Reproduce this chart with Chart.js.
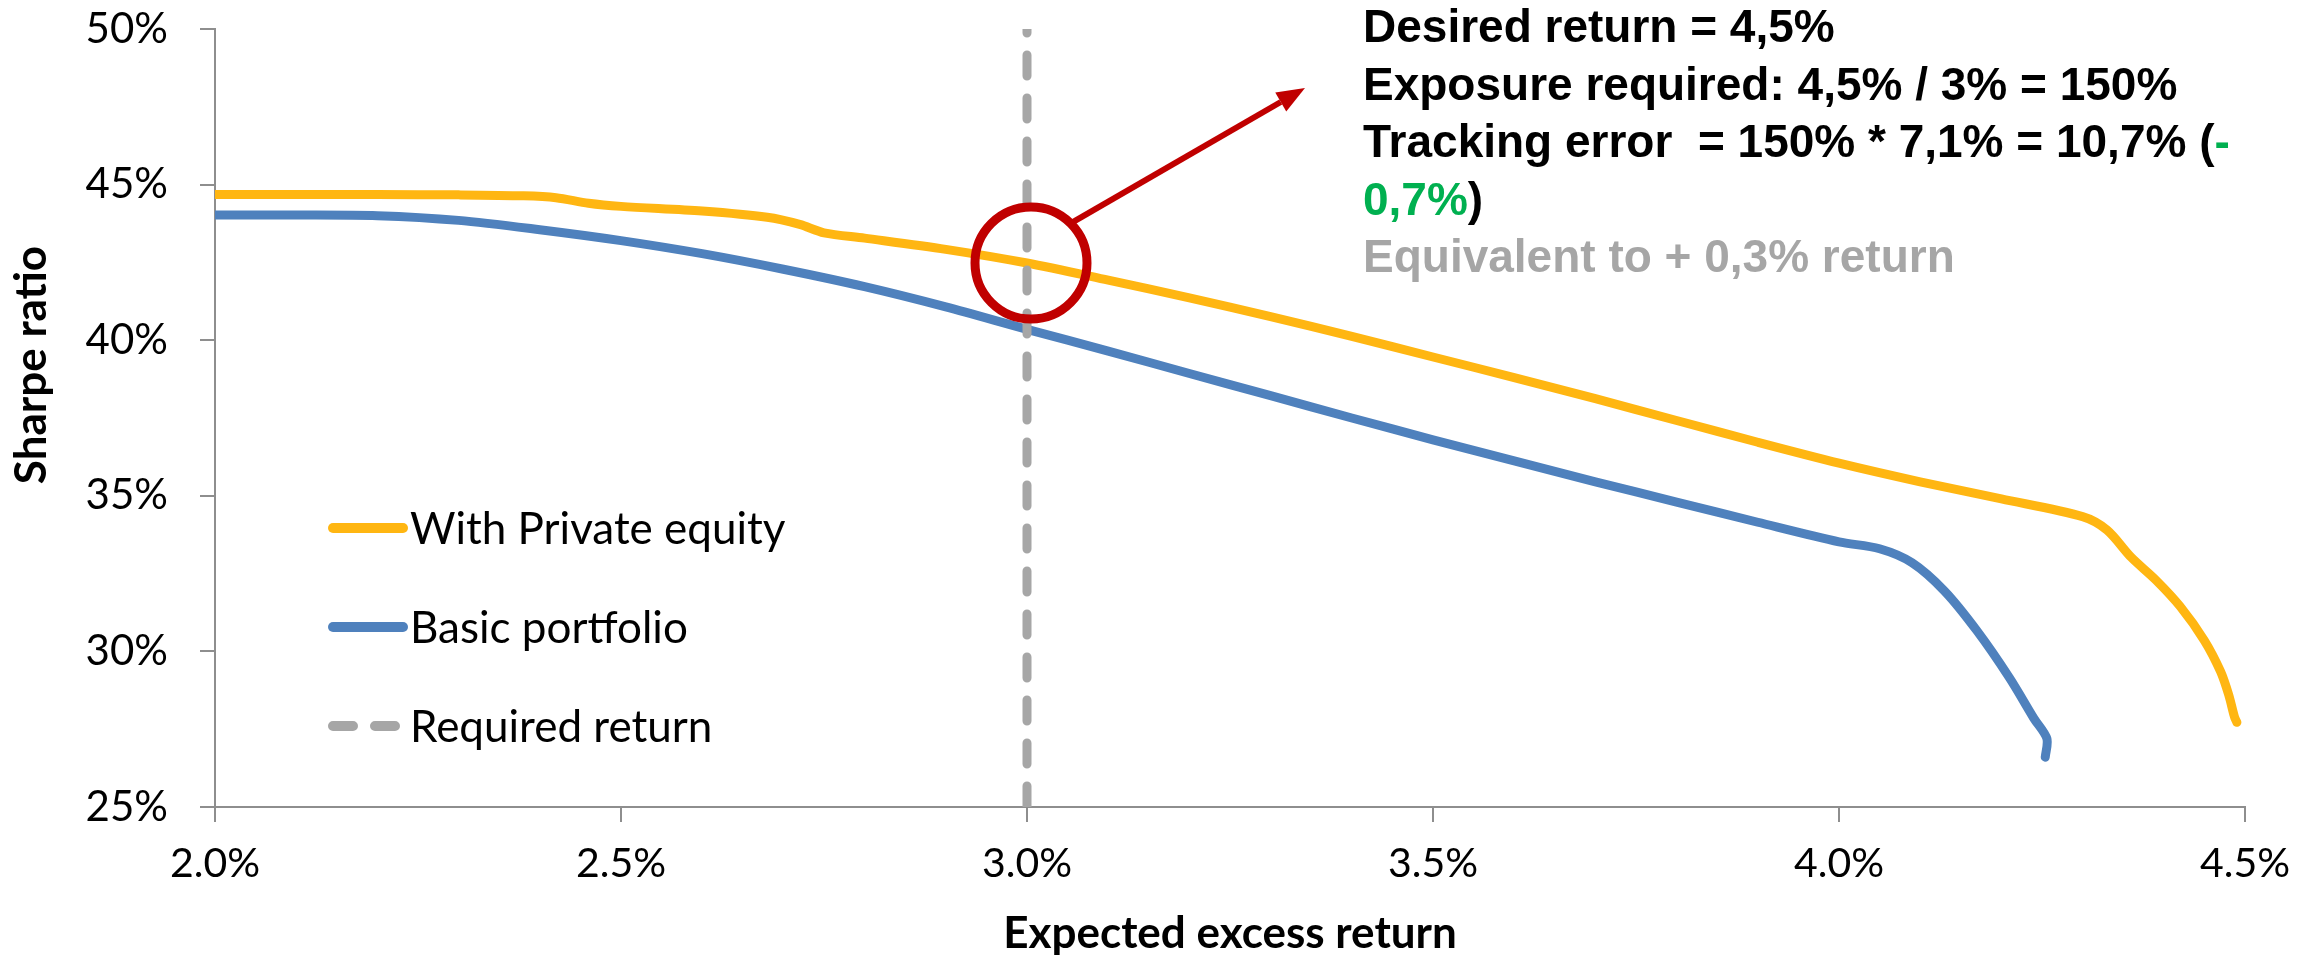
<!DOCTYPE html>
<html>
<head>
<meta charset="utf-8">
<title>Sharpe ratio vs expected excess return</title>
<script src="https://cdn.jsdelivr.net/npm/chart.js@4/dist/chart.umd.min.js"></script>
<style>
  html, body { margin: 0; padding: 0; background: #ffffff; overflow: hidden; }
  canvas { display: block; }
</style>
</head>
<body>
<canvas id="chart" width="2298" height="958"></canvas>
<script>
// Efficient frontier with private equity: expected excess return (%) and Sharpe ratio (%)
const peReturn = [2.00, 2.10, 2.20, 2.30, 2.38, 2.42, 2.46, 2.50, 2.60, 2.68, 2.72, 2.75, 2.80, 2.90,
                  3.00, 3.10, 3.20, 3.30, 3.40, 3.50, 3.60, 3.70, 3.80, 3.90, 4.00, 4.10, 4.20,
                  4.30, 4.33, 4.36, 4.39, 4.42, 4.45, 4.47, 4.48, 4.487, 4.49];
const peSharpe = [44.68, 44.68, 44.68, 44.67, 44.64, 44.58, 44.40, 44.30, 44.15, 43.95, 43.72, 43.45, 43.28, 42.92,
                  42.48, 41.93, 41.36, 40.76, 40.12, 39.46, 38.80, 38.12, 37.42, 36.72, 36.05, 35.45, 34.90,
                  34.33, 33.90, 33.02, 32.30, 31.45, 30.35, 29.35, 28.60, 27.90, 27.72];

// Basic portfolio frontier
const basicReturn = [2.00, 2.10, 2.20, 2.30, 2.40, 2.50, 2.60, 2.70, 2.80, 2.90, 3.00, 3.10, 3.20,
                     3.30, 3.40, 3.50, 3.60, 3.70, 3.80, 3.90, 4.00, 4.05, 4.09, 4.13, 4.17, 4.21,
                     4.24, 4.256, 4.254];
const basicSharpe = [44.02, 44.02, 44.00, 43.85, 43.55, 43.20, 42.78, 42.28, 41.72, 41.07, 40.35, 39.65, 38.93,
                     38.22, 37.50, 36.80, 36.12, 35.45, 34.80, 34.15, 33.52, 33.30, 32.85, 31.94, 30.66, 29.15,
                     27.85, 27.20, 26.60];

// Required return marker (vertical line at 3.0%)
const requiredReturn = [3.0, 3.0];
const requiredSharpe = [25, 50];

const seriesLabels = ['With Private equity', 'Basic portfolio', 'Required return'];
const xTicks = [2.0, 2.5, 3.0, 3.5, 4.0, 4.5];
const yTicks = [25, 30, 35, 40, 45, 50];

// Callout text, one entry per line, each made of coloured runs
const noteLines = [
  [['Desired return = 4,5%', '#000000']],
  [['Exposure required: 4,5% / 3% = 150%', '#000000']],
  [['Tracking error  = 150% * 7,1% = 10,7% (', '#000000'], ['-', '#00B050']],
  [['0,7%', '#00B050'], [')', '#000000']],
  [['Equivalent to + 0,3% return', '#A6A6A6']]
];

const COLORS = { pe: '#FFB612', basic: '#4F81BD', required: '#A6A6A6', axis: '#8E8E8E', ring: '#C00000' };
const TICK_FONT = 'Lato';

function toPoints(xs, ys) { return xs.map((v, i) => ({ x: v, y: ys[i] })); }

// Legend, highlight ring, arrow and callout text drawn on top of the plot
const overlay = {
  id: 'overlay',
  afterDatasetsDraw(chart) {
    const { ctx, chartArea, scales: { x, y } } = chart;
    ctx.save();

    // In-plot legend
    chart.data.datasets.forEach((ds, i) => {
      const ly = chartArea.top + 499 + i * 99;
      const lx0 = chartArea.left + 118, lx1 = chartArea.left + 188;
      ctx.beginPath();
      ctx.lineWidth = 10;
      ctx.lineCap = 'round';
      ctx.strokeStyle = ds.borderColor;
      ctx.setLineDash(ds.borderDash && ds.borderDash.length ? [20, 22] : []);
      ctx.moveTo(lx0, ly);
      ctx.lineTo(lx1, ly);
      ctx.stroke();
      ctx.setLineDash([]);
      ctx.fillStyle = '#000000';
      ctx.font = '44px ' + TICK_FONT;
      ctx.textAlign = 'left';
      ctx.textBaseline = 'alphabetic';
      ctx.fillText(ds.label, chartArea.left + 195, ly + 16);
    });

    // Ring around the private-equity frontier at the required return
    const k = peReturn.indexOf(requiredReturn[0]);
    const cx = x.getPixelForValue(peReturn[k]) + 4;
    const cy = y.getPixelForValue(peSharpe[k]);
    const r = 56;
    ctx.beginPath();
    ctx.lineWidth = 9;
    ctx.strokeStyle = COLORS.ring;
    ctx.arc(cx, cy, r, 0, Math.PI * 2);
    ctx.stroke();

    // Arrow from the ring towards the callout
    const sx = cx + r * Math.cos(-Math.PI / 4), sy = cy + r * Math.sin(-Math.PI / 4);
    const tx = 1305, ty = 88;
    const ang = Math.atan2(ty - sy, tx - sx);
    const headLen = 28, headHalf = 11;
    const bx = tx - headLen * Math.cos(ang), by = ty - headLen * Math.sin(ang);
    ctx.beginPath();
    ctx.lineWidth = 6;
    ctx.lineCap = 'butt';
    ctx.moveTo(sx, sy);
    ctx.lineTo(bx, by);
    ctx.stroke();
    ctx.beginPath();
    ctx.fillStyle = COLORS.ring;
    ctx.moveTo(tx, ty);
    ctx.lineTo(bx + headHalf * Math.sin(ang), by - headHalf * Math.cos(ang));
    ctx.lineTo(bx - headHalf * Math.sin(ang), by + headHalf * Math.cos(ang));
    ctx.closePath();
    ctx.fill();
    ctx.restore();
  },
  afterDraw(chart) {
    const { ctx, chartArea } = chart;
    ctx.save();

    // Vertical axis title
    ctx.translate(46, chartArea.top + 336);
    ctx.rotate(-Math.PI / 2);
    ctx.font = 'bold 44px ' + TICK_FONT;
    ctx.fillStyle = '#000000';
    ctx.textAlign = 'center';
    ctx.textBaseline = 'alphabetic';
    ctx.fillText('Sharpe ratio', 0, 0);
    ctx.setTransform(1, 0, 0, 1, 0, 0);

    // Callout text block
    ctx.font = 'bold 46px "Liberation Sans", Arial, sans-serif';
    ctx.textAlign = 'left';
    noteLines.forEach((runs, i) => {
      let px = 1363;
      const py = 42 + i * 57.6;
      runs.forEach(([txt, col]) => {
        ctx.fillStyle = col;
        ctx.fillText(txt, px, py);
        px += ctx.measureText(txt).width;
      });
    });
    ctx.restore();
  }
};

function build() {
  const ctx = document.getElementById('chart').getContext('2d');
  new Chart(ctx, {
    type: 'line',
    data: {
      datasets: [
        {
          label: seriesLabels[0],
          data: toPoints(peReturn, peSharpe),
          borderColor: COLORS.pe,
          backgroundColor: COLORS.pe,
          borderWidth: 9,
          borderCapStyle: 'round',
          borderJoinStyle: 'round',
          tension: 0.3,
          pointRadius: 0,
          order: 1
        },
        {
          label: seriesLabels[1],
          data: toPoints(basicReturn, basicSharpe),
          borderColor: COLORS.basic,
          backgroundColor: COLORS.basic,
          borderWidth: 9,
          borderCapStyle: 'round',
          borderJoinStyle: 'round',
          tension: 0.3,
          pointRadius: 0,
          order: 2
        },
        {
          label: seriesLabels[2],
          data: toPoints(requiredReturn, requiredSharpe),
          borderColor: COLORS.required,
          backgroundColor: COLORS.required,
          borderWidth: 9,
          borderDash: [21, 22],
          borderCapStyle: 'round',
          tension: 0,
          pointRadius: 0,
          order: 0
        }
      ]
    },
    options: {
      responsive: false,
      devicePixelRatio: 1,
      animation: false,
      events: [],
      layout: { padding: { top: 29, right: 53, bottom: 0, left: 0 } },
      plugins: {
        legend: { display: false },
        tooltip: { enabled: false }
      },
      scales: {
        x: {
          type: 'linear',
          min: xTicks[0],
          max: xTicks[xTicks.length - 1],
          afterBuildTicks: s => { s.ticks = xTicks.map(v => ({ value: v })); },
          afterFit: s => { s.height = 151; s.paddingLeft = 0; s.paddingRight = 0; },
          border: { display: true, color: COLORS.axis, width: 2 },
          grid: { display: true, drawOnChartArea: false, drawTicks: true, tickLength: 15, color: COLORS.axis, lineWidth: 2 },
          ticks: {
            callback: v => v.toFixed(1) + '%',
            font: { family: TICK_FONT, size: 41 },
            color: '#000000',
            padding: 17,
            maxRotation: 0,
            autoSkip: false
          },
          title: {
            display: true,
            text: 'Expected excess return',
            font: { family: TICK_FONT, size: 44, weight: 'bold', lineHeight: 1 },
            color: '#000000',
            padding: { top: 0, bottom: 2 }
          }
        },
        y: {
          type: 'linear',
          min: yTicks[0],
          max: yTicks[yTicks.length - 1],
          afterBuildTicks: s => { s.ticks = yTicks.map(v => ({ value: v })); },
          afterFit: s => { s.width = 215; s.paddingTop = 0; s.paddingBottom = 0; },
          border: { display: true, color: COLORS.axis, width: 2 },
          grid: { display: true, drawOnChartArea: false, drawTicks: true, tickLength: 15, color: COLORS.axis, lineWidth: 2 },
          ticks: {
            callback: v => v + '%',
            font: { family: TICK_FONT, size: 42 },
            color: '#000000',
            padding: 32,
            autoSkip: false
          }
        }
      }
    },
    plugins: [overlay]
  });
}

const fontLoads = [
  document.fonts.load('40px Lato'),
  document.fonts.load('bold 44px Lato'),
  document.fonts.load('bold 46px "Liberation Sans"')
];
Promise.all(fontLoads).then(build, build);
</script>
</body>
</html>
